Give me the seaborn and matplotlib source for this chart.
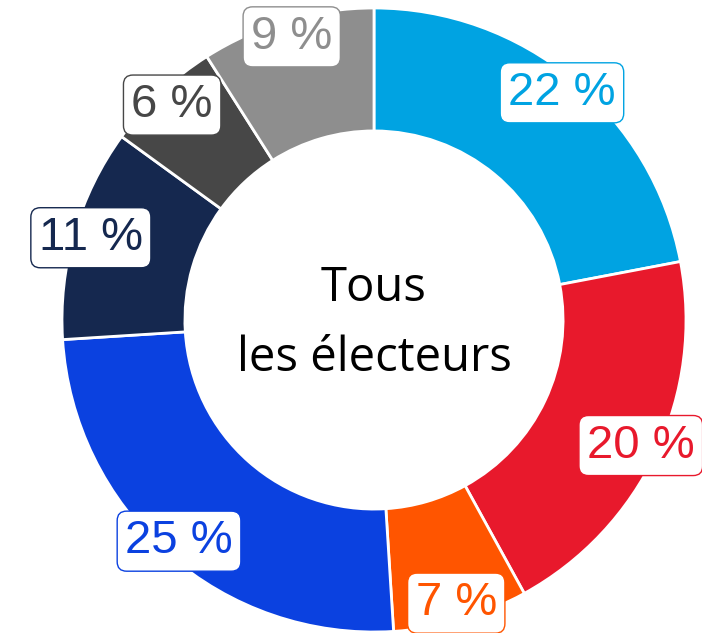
import matplotlib.pyplot as plt
import numpy as np
import seaborn as sns

# slices, clockwise from 12 o'clock
shares = [22, 20, 7, 25, 11, 6, 9]
labels = ["22 %", "20 %", "7 %", "25 %", "11 %", "6 %", "9 %"]
colors = ["#00a3e2", "#e8192c", "#ff5500", "#0b41e0", "#15284f", "#474747", "#8e8e8e"]
center_text = "Tous\nles électeurs"

sns.set_theme(style="white")
plt.rcParams["font.family"] = ["Liberation Sans", "DejaVu Sans"]

fig = plt.figure(figsize=(7.02, 6.33), dpi=100)
ax = fig.add_axes([62 / 702, 1 / 633, 624 / 702, 624 / 633])

wedges, _ = ax.pie(
    shares,
    colors=colors,
    startangle=90,
    counterclock=False,
    radius=1.0,
    wedgeprops=dict(width=0.394, edgecolor="white", linewidth=2),
)

# percentage labels in white boxes on the outer rim
total = sum(shares)
start = 0.0
for share, lab, col in zip(shares, labels, colors):
    mid = (start + share / 2) / total * 2 * np.pi
    start += share
    r = 0.945
    x, y = r * np.sin(mid), r * np.cos(mid)
    ax.text(
        x, y, lab,
        ha="center", va="center",
        fontsize=34, color=col,
        bbox=dict(boxstyle="round,pad=0.17,rounding_size=0.2",
                  facecolor="white", edgecolor=col, linewidth=1),
        clip_on=False,
    )

ax.text(0, -0.01, center_text, ha="center", va="center", fontsize=34,
        color="black", family=["Open Sans", "DejaVu Sans"], linespacing=1.62)

ax.set_xlim(-1, 1)
ax.set_ylim(-1, 1)
ax.set_aspect("equal")
ax.axis("off")

fig.savefig("out.png", dpi=100)
